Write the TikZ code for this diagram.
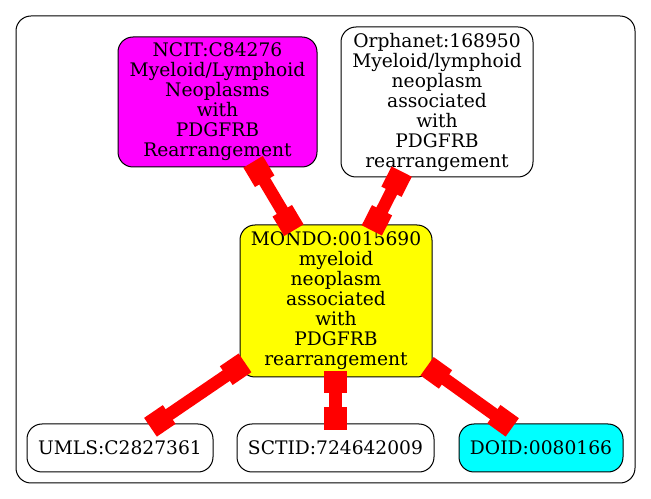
\documentclass[tikz,border=0pt]{standalone}
\usepackage{fontspec}
\setmainfont{DejaVu Serif}
\usetikzlibrary{arrows.meta}

\definecolor{TermRed}{HTML}{FF0000}
\definecolor{TermMagenta}{HTML}{FF00FF}
\definecolor{TermYellow}{HTML}{FFFF00}
\definecolor{TermCyan}{HTML}{00FFFF}

\begin{document}
\begin{tikzpicture}[x=0.75pt,y=-0.75pt,
    term/.style={draw=black,line width=0.75pt,rounded corners=11.25pt,
      inner sep=0pt,align=center,font=\fontsize{14pt}{15pt}\selectfont},
    link/.style={TermRed,line width=9.5pt,
      {Square[length=17pt,width=17pt]}-{Square[length=17pt,width=17pt]},
      shorten <=-5pt,shorten >=-5pt}]
    \useasboundingbox (0,0) rectangle (651,499);
    \draw[line width=0.75pt,rounded corners=11.25pt] (16,16) rectangle (635,483);
    \node[term,fill=TermMagenta,minimum width=149.25pt,minimum height=97.5pt]
      (ncit) at (217.5,102) {NCIT:C84276\\Myeloid/Lymphoid\\Neoplasms\\with\\PDGFRB\\Rearrangement};
    \node[term,fill=white,minimum width=144pt,minimum height=112.5pt]
      (orphanet) at (437,102) {Orphanet:168950\\Myeloid/lymphoid\\neoplasm\\associated\\with\\PDGFRB\\rearrangement};
    \node[term,fill=TermYellow,minimum width=144pt,minimum height=114pt]
      (mondo) at (336,301) {MONDO:0015690\\myeloid\\neoplasm\\associated\\with\\PDGFRB\\rearrangement};
    \node[term,fill=white,minimum width=139.5pt,minimum height=36pt]
      (umls) at (120,448) {UMLS:C2827361};
    \node[term,fill=white,minimum width=147.75pt,minimum height=36pt]
      (sctid) at (335.5,448) {SCTID:724642009};
    \node[term,fill=TermCyan,minimum width=123pt,minimum height=36pt]
      (doid) at (541,448) {DOID:0080166};
    \draw[link] (ncit) -- (mondo);
    \draw[link] (orphanet) -- (mondo);
    \draw[link] (mondo) -- (umls);
    \draw[link] (mondo.south -| sctid) -- (sctid);
    \draw[link] (mondo) -- (doid);
  \end{tikzpicture}
\end{document}
